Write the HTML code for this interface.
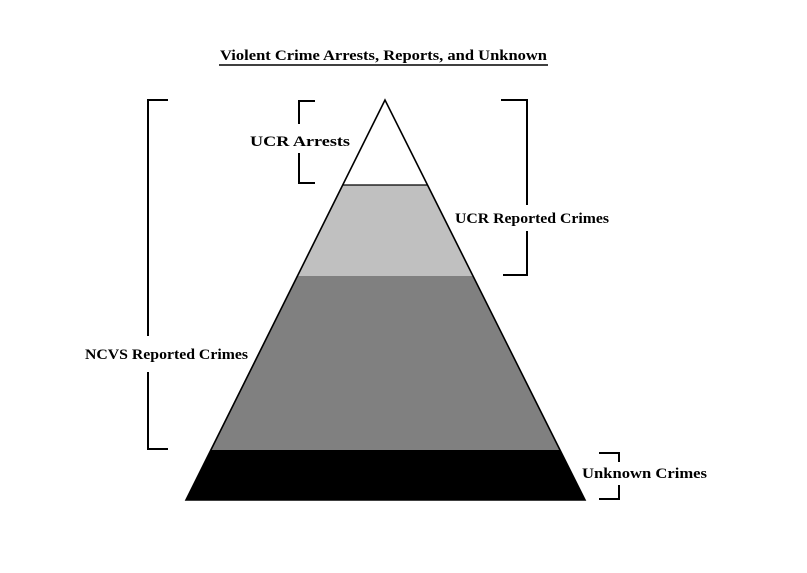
<!DOCTYPE html>
<html><head><style>
html,body{margin:0;padding:0;background:#fff;}
svg{display:block;}
text{font-family:"Liberation Serif","DejaVu Serif",serif;font-weight:bold;font-size:15px;fill:#000;}
</style></head><body>
<svg width="807" height="573" viewBox="0 0 807 573" xmlns="http://www.w3.org/2000/svg">
<rect width="807" height="573" fill="#fff"/>
<text x="220" y="60" textLength="327" lengthAdjust="spacingAndGlyphs">Violent Crime Arrests, Reports, and Unknown</text>
<line x1="219" y1="65" x2="548" y2="65" stroke="#000" stroke-width="1.5"/>
<polygon points="385,100 342.7,185 427.5,185" fill="#fff"/>
<polygon points="342.7,185 427.5,185 473,276 297.4,276" fill="#c0c0c0"/>
<polygon points="297.4,276 473,276 560,450 210.9,450" fill="#808080"/>
<polygon points="210.9,450 560,450 585,500 186,500" fill="#000"/>
<line x1="342.7" y1="185" x2="427.5" y2="185" stroke="#000" stroke-width="1.2"/>
<polygon points="385,100 186,500 585,500" fill="none" stroke="#000" stroke-width="1.6"/>
<g stroke="#000" stroke-width="2" fill="none">
<polyline points="315,101 299,101 299,124"/>
<polyline points="299,153 299,183 315,183"/>
<polyline points="501,100 527,100 527,205"/>
<polyline points="527,231 527,275 503,275"/>
<polyline points="168,100 148,100 148,336"/>
<polyline points="148,372 148,449 168,449"/>
<polyline points="599,453 619,453 619,462"/>
<polyline points="619,485 619,499 599,499"/>
</g>
<text x="250" y="146" textLength="100" lengthAdjust="spacingAndGlyphs">UCR Arrests</text>
<text x="455" y="223" textLength="154" lengthAdjust="spacingAndGlyphs">UCR Reported Crimes</text>
<text x="85" y="359" textLength="163" lengthAdjust="spacingAndGlyphs">NCVS Reported Crimes</text>
<text x="582" y="478" textLength="125" lengthAdjust="spacingAndGlyphs">Unknown Crimes</text>
</svg>
</body></html>
